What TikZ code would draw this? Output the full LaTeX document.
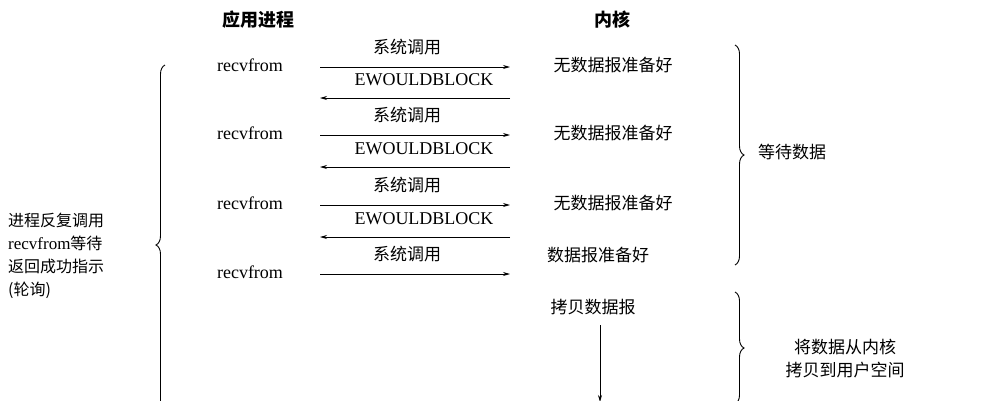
\documentclass[tikz,border=0pt]{standalone}
\usepackage{fontspec}
\setmainfont{Liberation Serif}
\newfontfamily\cjk{Noto Sans CJK SC}
\usetikzlibrary{decorations.pathreplacing,arrows.meta}
\begin{document}
\begin{tikzpicture}[x=1pt,y=-1pt,
  cj/.style={font=\cjk\fontsize{17}{20}\selectfont,inner sep=0pt},
  lt/.style={font=\fontsize{18}{20}\selectfont,inner sep=0pt},
  ar/.style={-{Stealth[length=7pt,width=4pt]},line width=0.8pt},
  br/.style={decorate,decoration={brace,amplitude=9pt},line width=0.9pt}]
\useasboundingbox (0,0) rectangle (992,400);
\node[cj,font=\cjk\bfseries\fontsize{18}{20}\selectfont] (h1) at (258,20) {应用进程};
\node[cj,font=\cjk\bfseries\fontsize{18}{20}\selectfont] (h2) at (612,20) {内核};
\foreach \i/\y in {1/65,2/133,3/203,4/272}{
  \node[lt] (r\i) at (250,\y) {recvfrom};
  \coordinate (a\i) at (320,\y+2);
  \coordinate (b\i) at (510,\y+2);
  \draw[ar] (a\i) -- (b\i);
  \node[cj] (s\i) at (407,\y-18) {系统调用};
}
\foreach \i/\y in {1/98,2/167,3/237}{
  \coordinate (c\i) at (510,\y);
  \coordinate (d\i) at (320,\y);
  \draw[ar] (c\i) -- (d\i);
  \node[lt] (e\i) at (424,\y-18) {EWOULDBLOCK};
}
\node[cj] (n1) at (613,65) {无数据报准备好};
\node[cj] (n2) at (613,133) {无数据报准备好};
\node[cj] (n3) at (613,203) {无数据报准备好};
\node[cj] (n4) at (598,255) {数据报准备好};
\node[cj] (k) at (593,307) {拷贝数据报};
\coordinate (kd) at (600,402);
\draw[ar] (600,325) -- (kd);
\draw[br] (735,45) -- (735,265);
\node[cj] (w) at (792,152) {等待数据};
\draw[br] (735,292) -- (735,404);
\node[cj,align=center,font=\cjk\fontsize{17}{23}\selectfont] (cp) at (845,359) {将数据从内核\\拷贝到用户空间};
\draw[br] (165,425) -- (165,65);
\node[cj,align=left,anchor=west,font=\cjk\fontsize{16}{23}\selectfont] (lp) at (8,256) {进程反复调用\\{\rmfamily\fontsize{17}{20}\selectfont recvfrom}等待\\返回成功指示\\(轮询)};
\end{tikzpicture}
\end{document}
